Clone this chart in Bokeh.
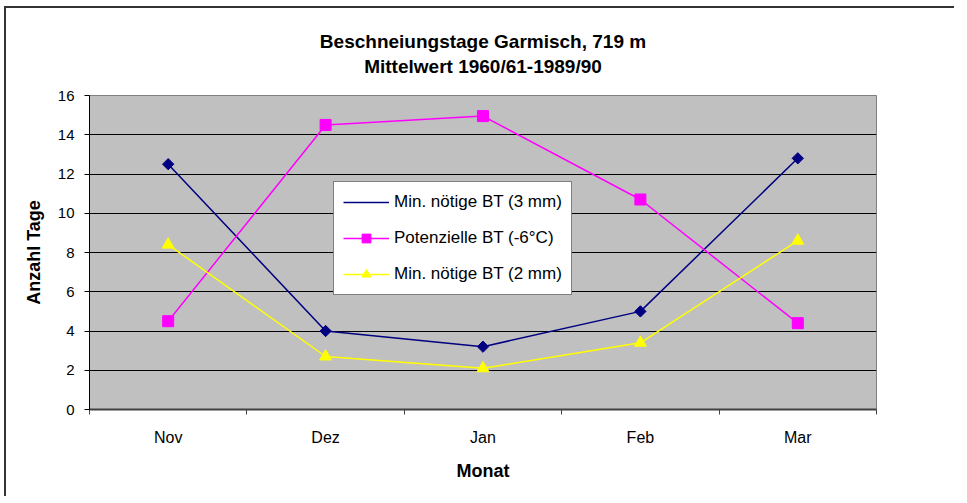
from bokeh.plotting import figure
from bokeh.models import FixedTicker, LinearAxis, Range1d, Legend, LegendItem, Title
from bokeh.embed import file_html
from bokeh.resources import INLINE

months = ["Nov", "Dez", "Jan", "Feb", "Mar"]
bt_3mm = [12.5, 4.0, 3.2, 5.0, 12.8]
bt_pot = [4.5, 14.5, 14.95, 10.7, 4.4]
bt_2mm = [8.4, 2.7, 2.1, 3.4, 8.6]
y_ticks = [0, 2, 4, 6, 8, 10, 12, 14, 16]
title_lines = ["Beschneiungstage Garmisch, 719 m", "Mittelwert 1960/61-1989/90"]

FONT = "Liberation Sans"
xs = [i + 0.5 for i in range(len(months))]

p = figure(width=950, height=490, output_backend="svg", toolbar_location=None,
           x_range=Range1d(0, len(months)), y_range=Range1d(0, 16),
           min_border_left=83, min_border_right=80, min_border_top=87, min_border_bottom=89,
           background_fill_color="#C0C0C0", border_fill_color="white")
p.styles = {"border-left": "2px solid #333", "border-top": "2px solid #333",
            "margin-left": "4px", "margin-top": "6px"}

spacer = Title(text=" ", align="center", text_font=FONT, text_font_size="10px",
               text_color="white", standoff=6, offset=0)
t2 = Title(text=title_lines[1], align="center", text_font=FONT, text_font_size="19px",
           text_font_style="bold", text_color="black", standoff=0, offset=0)
t1 = Title(text=title_lines[0], align="center", text_font=FONT, text_font_size="19px",
           text_font_style="bold", text_color="black", standoff=4, offset=0)
p.title = None
p.add_layout(spacer, "above")
p.add_layout(t2, "above")
p.add_layout(t1, "above")

p.outline_line_color = "#808080"
p.outline_line_width = 1

p.xgrid.visible = False
p.ygrid.ticker = FixedTicker(ticks=y_ticks)
p.ygrid.grid_line_color = "black"
p.ygrid.grid_line_width = 1

# y axis
ya = p.yaxis[0]
ya.ticker = FixedTicker(ticks=y_ticks)
ya.axis_label = "Anzahl Tage"
ya.axis_label_text_font = FONT
ya.axis_label_text_font_style = "bold"
ya.axis_label_text_font_size = "18px"
ya.axis_label_text_color = "black"
ya.major_label_text_font = FONT
ya.major_label_text_font_size = "15px"
ya.major_label_text_color = "black"
ya.major_label_standoff = 10
ya.axis_line_color = "black"
ya.major_tick_line_color = "black"
ya.major_tick_out = 5
ya.major_tick_in = 0
ya.minor_tick_line_color = None
ya.axis_label_standoff = 11

# x axis: ticks at category boundaries
xa = p.xaxis[0]
xa.ticker = FixedTicker(ticks=list(range(len(months) + 1)))
xa.major_label_text_font_size = "0px"
xa.major_label_text_color = None
xa.major_label_standoff = 0
xa.axis_line_color = "#404040"
xa.axis_line_width = 2
xa.major_tick_line_color = "#404040"
xa.major_tick_out = 5
xa.major_tick_in = 0
xa.minor_tick_line_color = None

# second x axis for category labels at centers
xb = LinearAxis(ticker=FixedTicker(ticks=xs),
                major_label_overrides={x: m for x, m in zip(xs, months)})
xb.axis_line_color = None
xb.major_tick_line_color = None
xb.minor_tick_line_color = None
xb.major_label_text_font = FONT
xb.major_label_text_font_size = "16px"
xb.major_label_text_color = "black"
xb.major_label_standoff = 8
xb.axis_label = "Monat"
xb.axis_label_text_font = FONT
xb.axis_label_text_font_style = "bold"
xb.axis_label_text_font_size = "18px"
xb.axis_label_text_color = "black"
xb.axis_label_standoff = 12
p.add_layout(xb, "below")

l1 = p.line(xs, bt_3mm, line_color="#000080", line_width=1.5)
m1 = p.scatter(xs, bt_3mm, marker="square", angle=0.7854, size=8,
               fill_color="#000080", line_color="#000080")
l2 = p.line(xs, bt_pot, line_color="#FF00FF", line_width=1.5)
m2 = p.scatter(xs, bt_pot, marker="square", size=11, fill_color="#FF00FF", line_color="#FF00FF")
l3 = p.line(xs, bt_2mm, line_color="#FFFF00", line_width=1.5)
m3 = p.scatter(xs, bt_2mm, marker="triangle", size=12, fill_color="#FFFF00", line_color="#FFFF00")
# legend-only diamond glyph (no data)
m1_leg = p.scatter([], [], marker="diamond", size=14, fill_color="#000080", line_color="#000080")

legend = Legend(items=[
    LegendItem(label="Min. nötige BT (3 mm)", renderers=[l1, m1_leg]),
    LegendItem(label="Potenzielle BT (-6°C)", renderers=[l2, m2]),
    LegendItem(label="Min. nötige BT (2 mm)", renderers=[l3, m3]),
], location=(244, 114))
legend.label_text_font = FONT
legend.label_text_font_size = "17px"
legend.label_text_color = "black"
legend.border_line_color = "black"
legend.border_line_width = 1
legend.background_fill_color = "white"
legend.background_fill_alpha = 1
legend.glyph_width = 46
legend.glyph_height = 22
legend.label_height = 22
legend.spacing = 14
legend.padding = 9
legend.margin = 0
legend.label_standoff = 5
p.add_layout(legend, "center")

open("out.html", "w").write(file_html(p, INLINE))
